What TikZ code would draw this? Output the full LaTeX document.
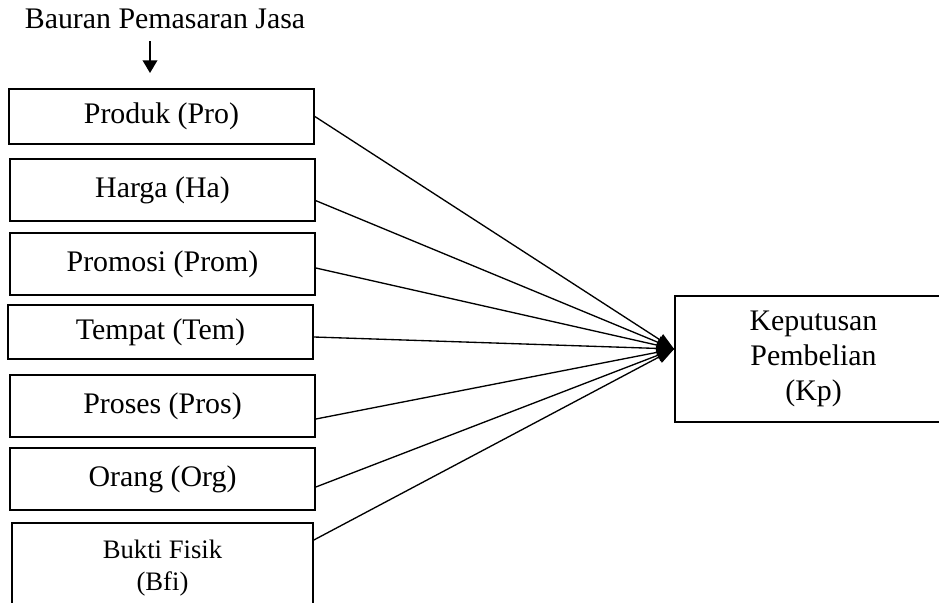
\documentclass[tikz,border=0pt]{standalone}
\usepackage{fontspec}
\setmainfont{Liberation Serif}
\usetikzlibrary{arrows.meta}

\tikzset{every picture/.style={line width=1pt}}
\tikzset{
  varbox/.style={draw, line width=1.3pt, minimum width=228.75pt, inner sep=0pt, align=center, font=\fontsize{22.4}{26.5}\selectfont},
  link/.style={-{Triangle[length=13pt,width=9.5pt]}},
}

\begin{document}
\begin{tikzpicture}[x=0.75pt,y=0.75pt,yscale=-1]
  \clip (0,0) rectangle (939,603);

  % judul dan panah ke bawah
  \node [anchor=base, font=\fontsize{22.4}{26.5}\selectfont] (judul) at (165,28) {Bauran Pemasaran Jasa};
  \coordinate (panahA) at (150,41);
  \coordinate (panahB) at (150,73);
  \draw [-{Triangle[length=9.5pt,width=11pt]}] (panahA) -- (panahB);

  % variabel bebas
  \node [varbox, minimum height=41.25pt] (pro)  at (161.5,116.5) {Produk (Pro)};
  \node [varbox, minimum height=46.5pt]  (ha)   at (162.5,190)   {Harga (Ha)};
  \node [varbox, minimum height=46.5pt]  (prom) at (162.5,264)   {Promosi (Prom)};
  \node [varbox, minimum height=40.5pt]  (tem)  at (160.5,332)   {Tempat (Tem)};
  \node [varbox, minimum height=46.5pt]  (pros) at (162.5,406)   {Proses (Pros)};
  \node [varbox, minimum height=46.5pt]  (org)  at (162.5,479)   {Orang (Org)};
  \node [varbox, minimum width=225.75pt, minimum height=67.5pt, font=\fontsize{20}{24}\selectfont] (bfi) at (162.5,568) {Bukti Fisik\\(Bfi)};

  % variabel terikat
  \node [varbox, minimum width=207.75pt, minimum height=94.5pt] (kp) at (813.5,359) {Keputusan\\Pembelian\\(Kp)};
  \coordinate (kpin) at ([yshift=-7.5pt]kp.west);

  \draw [link] (pro.east) -- (kpin);
  \draw [link] ([yshift=8pt]ha.east) -- (kpin);
  \draw [link] ([yshift=3pt]prom.east) -- (kpin);
  \draw [link] ([yshift=3.75pt]tem.east) -- (kpin);
  \draw [link] ([yshift=9.75pt]pros.east) -- (kpin);
  \draw [link] ([yshift=6pt]org.east) -- (kpin);
  \draw [link] ([yshift=-21pt]bfi.east) -- (kpin);

\end{tikzpicture}
\end{document}
